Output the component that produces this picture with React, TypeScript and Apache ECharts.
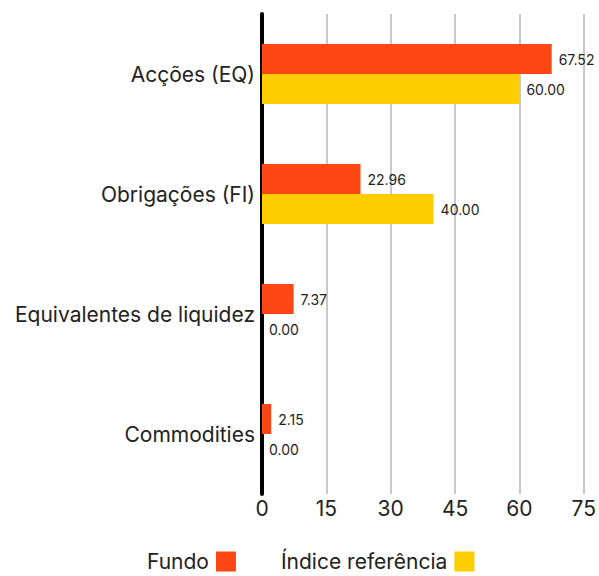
import React, { useEffect, useRef } from "react";
import * as echarts from "echarts";

const categories = ["Acções (EQ)", "Obrigações (FI)", "Equivalentes de liquidez", "Commodities"];
const fundValues = [67.52, 22.96, 7.37, 2.15];
const indexValues = [60.0, 40.0, 0.0, 0.0];
const seriesNames = ["Fundo", "Índice referência"];
const xTicks = { min: 0, max: 75, interval: 15 };

const FONT = "Inter, 'Noto Sans', sans-serif";

export default function App() {
  const ref = useRef<HTMLDivElement>(null);
  useEffect(() => {
    document.body.style.margin = "0";
    if (!ref.current) return;
    const chart = echarts.init(ref.current, null, { renderer: "svg" });
    const labelCfg = {
      show: true,
      position: "right",
      distance: 7,
      fontSize: 14,
      color: "#222",
      fontFamily: FONT,
      formatter: (p: any) => Number(p.value).toFixed(2),
    };
    chart.setOption({
      animation: false,
      textStyle: { fontFamily: FONT },
      grid: { left: 262, top: 14, width: 324, height: 480, containLabel: false },
      legend: {
        bottom: 4,
        left: 147,
        padding: 0,
        align: "right",
        itemWidth: 20,
        itemHeight: 20,
        itemGap: 45,
        icon: "rect",
        textStyle: { fontSize: 21, color: "#222", fontFamily: FONT, padding: [0, 2, 0, 0] },
        data: seriesNames,
      },
      xAxis: {
        type: "value",
        min: xTicks.min,
        max: xTicks.max,
        interval: xTicks.interval,
        axisLine: { show: false },
        axisTick: { show: false },
        axisLabel: { fontSize: 21, color: "#222", margin: 4, fontFamily: FONT },
        splitLine: { show: true, lineStyle: { color: "#c8c8c8", width: 2 } },
      },
      yAxis: {
        type: "category",
        inverse: true,
        data: categories,
        axisLine: { show: true, lineStyle: { color: "#000", width: 4 } },
        axisTick: { show: false },
        axisLabel: { fontSize: 21, color: "#222", margin: 7, fontFamily: FONT },
      },
      series: [
        {
          name: seriesNames[0],
          type: "bar",
          data: fundValues,
          barWidth: 30,
          barGap: "0%",
          itemStyle: { color: "#FF4713" },
          label: labelCfg,
        },
        {
          name: seriesNames[1],
          type: "bar",
          data: indexValues,
          barWidth: 30,
          barGap: "0%",
          itemStyle: { color: "#FFCE00" },
          label: labelCfg,
        },
      ],
    });
    return () => chart.dispose();
  }, []);
  return <div ref={ref} style={{ width: 599, height: 576 }} />;
}
